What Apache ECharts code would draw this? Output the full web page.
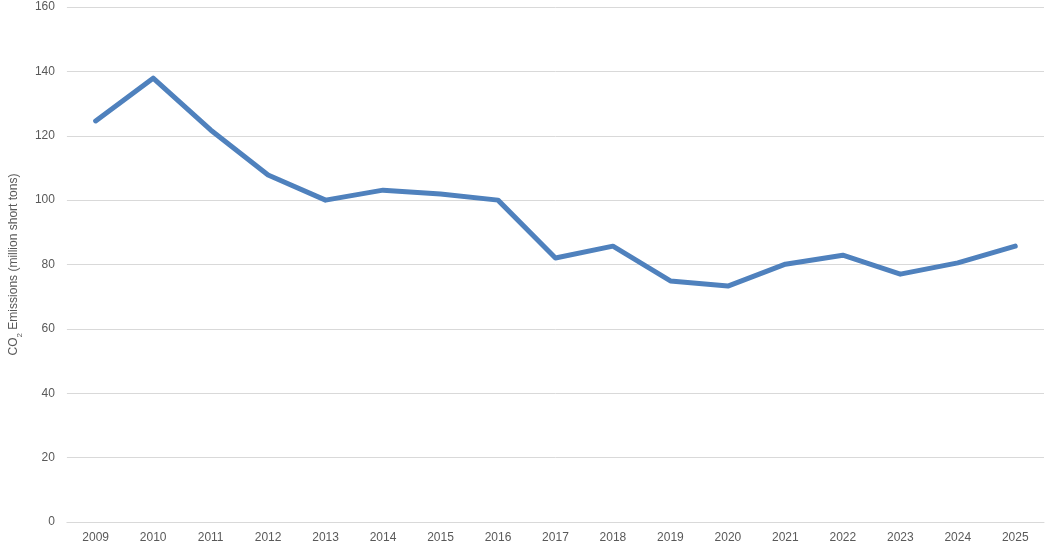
<!DOCTYPE html>
<html><head><meta charset="utf-8">
<script src="https://cdn.jsdelivr.net/npm/echarts@6/dist/echarts.min.js"></script>
<style>html,body{margin:0;padding:0;background:#fff}#c{width:1053px;height:548px}</style>
</head><body><div id="c"></div>
<script>
const years = ['2009','2010','2011','2012','2013','2014','2015','2016','2017','2018','2019','2020','2021','2022','2023','2024','2025'];
const emissions = [124.6,137.9,121.8,107.8,100,103.1,101.9,100,82,85.7,74.9,73.3,80.1,82.9,77,80.5,85.7];
const chart = echarts.init(document.getElementById('c'));
chart.setOption({
  animation:false,
  grid:{left:62,right:9,top:7,bottom:26},
  xAxis:{type:'category',data:years,boundaryGap:true,
    axisLine:{lineStyle:{color:'#d9d9d9'}},axisTick:{show:false},
    axisLabel:{color:'#595959',fontSize:12,fontFamily:'Liberation Sans, Arial',margin:10}},
  yAxis:{type:'value',min:0,max:160,interval:20,
    name:'CO{sub|2} Emissions (million short tons)',nameLocation:'middle',nameGap:38,nameRotate:90,
    nameTextStyle:{color:'#595959',fontSize:12,fontFamily:'Liberation Sans, Arial',
      rich:{sub:{fontSize:8,verticalAlign:'bottom',color:'#595959',padding:[0,0,-4,0]}}},
    axisLine:{show:false},axisTick:{show:false},
    splitLine:{lineStyle:{color:'#d9d9d9'}},
    axisLabel:{color:'#595959',fontSize:12,fontFamily:'Liberation Sans, Arial',margin:12}},
  series:[{type:'line',data:emissions,symbol:'none',lineStyle:{color:'#4f81bd',width:5,cap:'round',join:'round'}}]
});
</script></body></html>
